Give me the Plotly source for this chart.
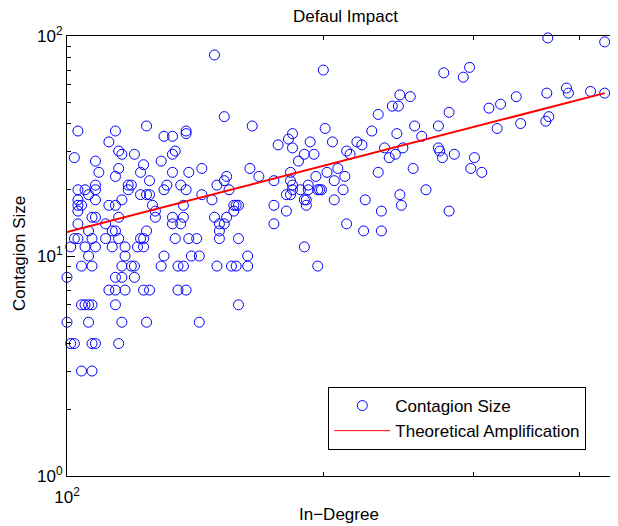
import plotly.graph_objects as go

# ---- data ----
in_degree = [
    149, 153, 165, 103, 114, 124, 138, 138, 130, 133,
    112, 102, 115, 116, 120, 133, 134, 108, 109, 115,
    114, 123, 122, 129, 133, 139, 144, 125, 119, 118,
    131, 136, 103, 105, 106, 108, 108, 118, 122, 124,
    125, 130, 138, 144, 150, 153, 154, 155, 164, 168,
    103, 104, 103, 103, 108, 112, 114, 116, 126, 127,
    127, 115, 107, 108, 103, 111, 113, 114, 106, 124,
    133, 133, 136, 137, 137, 148, 149, 151, 151, 154,
    153, 157, 158, 159, 157, 175, 175, 181, 175, 177,
    182, 184, 184, 187, 190, 195, 193, 200, 183, 183,
    184, 184, 181, 183, 188, 190, 191, 191, 192, 192,
    196, 197, 101, 102, 103, 105, 108, 107, 111, 113,
    115, 117, 121, 122, 123, 123, 134, 139, 142, 151,
    159, 190,
    106, 117, 130, 140, 143, 163,
    104, 107, 116, 119, 120, 129, 135, 137, 150, 156, 158, 163, 197,
    100, 114, 116, 120,
    112, 114, 117, 123, 125, 135, 138,
    104, 105, 106, 107, 114, 159,
    100, 106, 116, 124, 143,
    101, 102, 107, 108, 115,
    104, 107,
    367, 428, 277, 297, 292, 386, 388, 366, 412, 428,
    337, 323, 313, 246, 253, 241, 245, 232, 281, 368,
    365, 341, 320, 273, 256, 261, 201, 228, 244, 219,
    222, 205, 236, 248, 273, 274, 276, 285, 301, 298,
    307, 213, 215, 239, 243, 202, 208, 212, 206, 232,
    255, 198, 199, 211, 264, 206, 224, 246, 247, 234,
    281, 213, 223, 234,
]
contagion_size = [
    82, 43, 39, 37, 37, 39, 37, 36, 35, 35,
    33, 28, 30, 29, 29, 29, 30, 27, 24, 25,
    23, 26, 24, 27, 24, 24, 25, 22, 21, 21,
    21, 21, 20, 20, 19, 21, 20, 20, 19, 19,
    19, 20, 20, 19, 21, 22, 23, 20, 25, 23,
    18, 17, 17, 16, 18, 17, 17, 18, 17, 16,
    15, 15, 15, 15, 14, 14, 13, 13, 13, 13,
    15, 14, 14, 15, 17, 18, 15, 14, 13, 15,
    14, 17, 17, 17, 16, 17, 14, 16, 22, 32,
    34, 36, 31, 27, 29, 29, 33, 70, 24, 22,
    21, 20, 19, 19, 20, 18, 18, 17, 21, 20,
    23, 20, 11, 12, 12, 11, 11, 12, 12, 11,
    12, 11, 11, 12, 11, 12, 12, 12, 12, 12,
    12, 11,
    10, 10, 10, 10, 10, 10,
    9, 9, 9, 9, 9, 9, 9, 9, 9, 9, 9, 9, 9,
    8, 8, 8, 8,
    7, 7, 7, 7, 7, 7, 7,
    6, 6, 6, 6, 6, 6,
    5, 5, 5, 5, 5,
    4, 4, 4, 4, 4,
    3, 3,
    98, 94, 68, 72, 65, 58, 55, 55, 56, 55,
    53, 49, 47, 54, 53, 48, 48, 44, 45, 43,
    41, 40, 38, 39, 39, 35, 38, 37, 36, 33,
    32, 33, 31, 31, 31, 30, 28, 29, 28, 25,
    24, 30, 29, 28, 29, 24, 25, 23, 22, 24,
    25, 20, 20, 20, 20, 18, 18, 19, 17, 16,
    16, 14, 13, 13,
]
fit_in_degree = [100, 428]
fit_contagion = [12.85, 55.0]

y_tick_vals = [1, 10, 100]
y_tick_text = ["10<sup>0</sup>", "10<sup>1</sup>", "10<sup>2</sup>"]
y_minor_vals = [2, 3, 4, 5, 6, 7, 8, 9, 20, 30, 40, 50, 60, 70, 80, 90]
x_tick_vals = [100]
x_tick_text = ["10<sup>2</sup>"]
x_minor_vals = [200, 300, 400]

FONT = "Liberation Sans, Arial, Helvetica, sans-serif"

# The page puts the figure 8 px in from the top-left corner, so the layout is
# built in figure pixels = page pixels - 8.
OFF = 8
FW, FH = 618, 526
L, T, H = 67 - OFF, 36 - OFF, 440     # plot area (figure pixels)
W = FW - L                            # plot area runs to the figure's right edge
X_RIGHT = 2 + W / 851.5               # log10 at the right edge (851.5 px/decade)


def px(xp):  # page x pixel -> paper fraction
    return (xp - OFF - L) / W


def py(yp):  # page y pixel -> paper fraction
    return (T + H - (yp - OFF)) / H


fig = go.Figure()
fig.add_trace(go.Scatter(
    x=in_degree, y=contagion_size, mode="markers", name="Contagion Size",
    marker=dict(symbol="circle-open", size=10, color="#0000FF",
                line=dict(width=1, color="#0000FF")),
    cliponaxis=False,
))
fig.add_trace(go.Scatter(
    x=fit_in_degree, y=fit_contagion, mode="lines", name="Theoretical Amplification",
    line=dict(color="#FF0000", width=2), showlegend=False,
))
fig.add_trace(go.Scatter(
    x=[None], y=[None], mode="lines", name="Theoretical Amplification",
    line=dict(color="#FF0000", width=1),
))

fig.update_layout(
    width=FW, height=FH,
    margin=dict(l=L, r=0, t=T, b=FH - T - H, autoexpand=False),
    paper_bgcolor="white", plot_bgcolor="white",
    font=dict(family=FONT, size=17, color="black"),
    showlegend=True,
    legend=dict(x=px(328.3), y=py(387), xanchor="left", yanchor="top",
                bgcolor="white", bordercolor="black", borderwidth=1,
                font=dict(size=17, family=FONT, color="black"),
                itemwidth=56, tracegroupgap=0),
    xaxis=dict(
        type="log", range=[2, X_RIGHT], showgrid=False, zeroline=False, automargin=False,
        showline=True, linecolor="black", linewidth=1, mirror="ticks",
        ticks="inside", ticklen=8, tickcolor="black",
        tickmode="array", tickvals=x_tick_vals, ticktext=x_tick_text,
        tickfont=dict(size=17), ticklabelstandoff=6,
        minor=dict(tickmode="array", tickvals=x_minor_vals, ticks="inside",
                   ticklen=4, tickcolor="black", showgrid=False),
    ),
    yaxis=dict(
        type="log", range=[0, 2], showgrid=False, zeroline=False, automargin=False,
        showline=True, linecolor="black", linewidth=1, mirror=False,
        ticks="inside", ticklen=8, tickcolor="black",
        tickmode="array", tickvals=y_tick_vals, ticktext=y_tick_text,
        tickfont=dict(size=17),
        minor=dict(tickmode="array", tickvals=y_minor_vals, ticks="inside",
                   ticklen=4, tickcolor="black", showgrid=False),
    ),
    annotations=[
        dict(text="Defaul Impact", xref="paper", yref="paper",
             x=px(345), y=py(16.5), xanchor="center", yanchor="middle",
             showarrow=False, font=dict(size=17)),
        dict(text="In\u2212Degree", xref="paper", yref="paper",
             x=px(339), y=py(514), xanchor="center", yanchor="middle",
             showarrow=False, font=dict(size=17)),
        dict(text="Contagion Size", xref="paper", yref="paper",
             x=px(19), y=py(254), xanchor="center", yanchor="middle",
             textangle=-90, showarrow=False, font=dict(size=17)),
    ],
)

fig.write_html("out.html")
